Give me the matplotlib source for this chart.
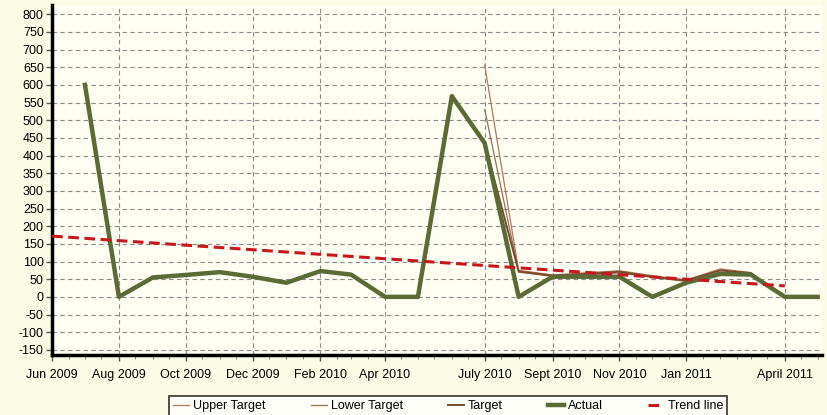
import matplotlib.pyplot as plt
import matplotlib.dates as mdates
import numpy as np
import pandas as pd

plt.rcParams['font.family'] = ['Liberation Sans', 'DejaVu Sans']
plt.rcParams['axes.unicode_minus'] = False

# ======== data ========
months = pd.date_range('2009-07-01', '2011-05-01', freq='MS')
actual = [600, 0, 55, 62, 70, 57, 40, 73, 63, 0, 0, 568,
          435, 0, 57, 57, 57, 0, 40, 65, 63, 0, 0]
target_months = pd.date_range('2010-07-01', '2011-04-01', freq='MS')
upper_target = [655, 75, 62, 68, 74, 60, 48, 79, 69, 0]
lower_target = [530, 70, 58, 62, 68, 55, 44, 70, 66, 0]
target = [435, 72, 60, 65, 71, 57, 46, 75, 67, 0]
trend_dates = pd.to_datetime(['2009-06-01', '2011-04-01'])
trend_vals = [172, 31]

tick_dates = pd.to_datetime(['2009-06-01', '2009-08-01', '2009-10-01', '2009-12-01',
                             '2010-02-01', '2010-04-01', '2010-07-01', '2010-09-01',
                             '2010-11-01', '2011-01-01', '2011-04-01'])
tick_labels = ['Jun 2009', 'Aug 2009', 'Oct 2009', 'Dec 2009', 'Feb 2010', 'Apr 2010',
               'July 2010', 'Sept 2010', 'Nov 2010', 'Jan 2011', 'April 2011']

# ======== figure ========
fig = plt.figure(figsize=(8.27, 4.15), dpi=100, facecolor='#fcfce6')
ax = fig.add_axes([0.063, 0.145, 0.931, 0.843])
ax.set_facecolor('#fefef3')

ax.plot(target_months, upper_target, color='#b07a5a', lw=0.9, label='Upper Target', zorder=3)
ax.plot(target_months, lower_target, color='#8c7458', lw=0.9, label='Lower Target', zorder=3)
ax.plot(target_months, target, color='#7a4a2c', lw=1.4, label='Target', zorder=3)
ax.plot(months, actual, color='#5b6b36', lw=3.2, label='Actual', zorder=4)
ax.plot(trend_dates, trend_vals, color='#c8171c', lw=2.2, ls=(0, (3.5, 1.8)),
        label='Trend line', zorder=5)

ax.set_xlim(pd.Timestamp('2009-06-01'), pd.Timestamp('2011-05-05'))
ax.set_ylim(-164, 826)
ax.set_yticks(np.arange(-150, 801, 50))
ax.set_xticks(tick_dates)
ax.set_xticklabels(tick_labels)
ax.xaxis.set_minor_locator(mdates.DayLocator(bymonthday=[1, 16]))

ax.grid(True, which='major', color='#8a8a8a', ls=(0, (4, 3)), lw=0.8)
ax.tick_params(axis='both', which='major', labelsize=9, length=4, width=1, color='#555555')
ax.tick_params(axis='x', which='minor', length=3, color='#777777')
ax.tick_params(axis='x', which='major', pad=6)
ax.tick_params(axis='y', pad=2)

for side in ['top', 'right']:
    ax.spines[side].set_visible(False)
ax.spines['left'].set_linewidth(2.5)
ax.spines['bottom'].set_linewidth(2.5)

leg = fig.legend(loc='upper center', bbox_to_anchor=(0.542, 0.06), ncol=5,
                 fontsize=9, frameon=True, fancybox=False, edgecolor='black',
                 handlelength=1.3, handletextpad=0.3, columnspacing=3.6,
                 borderpad=0.3)
leg.get_frame().set_linewidth(1.2)
leg.get_frame().set_facecolor('white')

plt.savefig('out.png', dpi=100, facecolor=fig.get_facecolor())
